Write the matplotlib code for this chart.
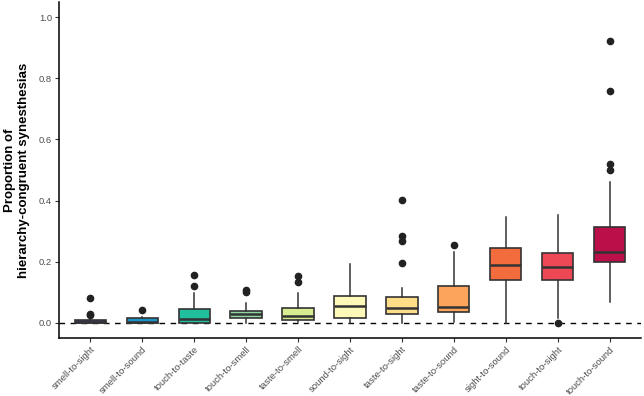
import matplotlib
matplotlib.use("Agg")
import matplotlib.pyplot as plt

plt.rcParams["font.family"] = ["Liberation Sans", "DejaVu Sans"]

categories = ["smell-to-sight", "smell-to-sound", "touch-to-taste", "touch-to-smell",
              "taste-to-smell", "sound-to-sight", "taste-to-sight", "taste-to-sound",
              "sight-to-sound", "touch-to-sight", "touch-to-sound"]
# box stats
q1 = [0.0, 0.0, 0.0, 0.015, 0.009, 0.017, 0.028, 0.034, 0.14, 0.14, 0.20]
med = [0.002, 0.002, 0.012, 0.027, 0.022, 0.056, 0.048, 0.053, 0.189, 0.182, 0.231]
q3 = [0.009, 0.015, 0.045, 0.039, 0.047, 0.088, 0.083, 0.121, 0.246, 0.228, 0.314]
wlo = [0.0, 0.0, 0.0, 0.0, 0.003, 0.0, 0.0, 0.001, 0.0, 0.015, 0.069]
whi = [0.015, 0.02, 0.096, 0.063, 0.098, 0.192, 0.115, 0.233, 0.346, 0.354, 0.461]
outliers = [[0.08, 0.03, 0.025], [0.04], [0.12, 0.156], [0.102, 0.106],
            [0.133, 0.153], [], [0.196, 0.268, 0.284, 0.402], [0.255],
            [], [0.0], [0.501, 0.521, 0.758, 0.922]]
colors = ["#3f3c7c", "#1a93c6", "#22bf9f", "#8fd6a0", "#d8ec92", "#fdfab9",
          "#fedd88", "#fca45c", "#f26c3e", "#ee4756", "#bb0f4a"]

stats = []
for i, name in enumerate(categories):
    stats.append({"label": name, "q1": q1[i], "med": med[i], "q3": q3[i],
                  "whislo": wlo[i], "whishi": whi[i], "fliers": outliers[i]})

fig = plt.figure(figsize=(6.44, 3.96), dpi=100)
ax = fig.add_axes([0.0916, 0.1465, 0.9037, 0.8485])

ax.axhline(0, color="black", linestyle=(0, (4, 4)), linewidth=1.0, zorder=1)

line_col = "#333333"
bp = ax.bxp(stats, positions=range(1, 12), widths=0.6, patch_artist=True,
            boxprops=dict(edgecolor=line_col, linewidth=1.2),
            medianprops=dict(color=line_col, linewidth=1.8),
            whiskerprops=dict(color=line_col, linewidth=1.1),
            capprops=dict(linewidth=0),
            flierprops=dict(marker="o", markerfacecolor="#222222",
                            markeredgecolor="#222222", markersize=4.5),
            zorder=3)
for patch, c in zip(bp["boxes"], colors):
    patch.set_facecolor(c)

ax.set_xlim(0.4, 11.6)
ax.set_ylim(-0.05, 1.05)
ax.set_yticks([0.0, 0.2, 0.4, 0.6, 0.8, 1.0])
ax.set_yticklabels(["0.0", "0.2", "0.4", "0.6", "0.8", "1.0"])
ax.set_xticks(range(1, 12))
ax.set_xticklabels(categories, rotation=45, ha="right", rotation_mode="anchor")
ax.tick_params(axis="both", colors="#333333", labelsize=6.8, length=3, width=0.8,
               labelcolor="#4d4d4d", pad=2)
ax.set_ylabel("Proportion of\nhierarchy-congruent synesthesias",
              fontsize=9.5, fontweight="bold")
ax.yaxis.set_label_coords(-0.05, 0.5)
for s in ["top", "right"]:
    ax.spines[s].set_visible(False)
for s in ["left", "bottom"]:
    ax.spines[s].set_linewidth(1.1)

fig.savefig("out.png", dpi=100)
